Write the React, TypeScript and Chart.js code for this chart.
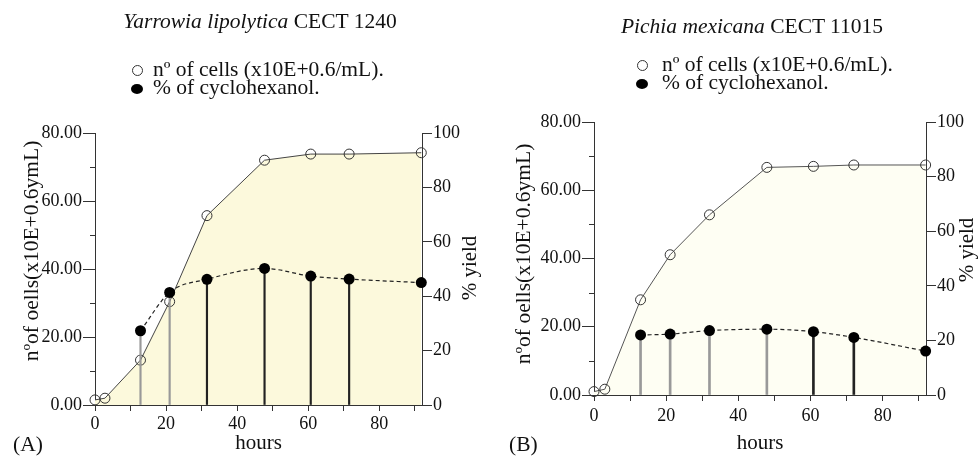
import React, { useEffect, useRef } from 'react';
import { Chart, registerables } from 'chart.js';

Chart.register(...registerables);

// ---------- DATA ----------
// Panel A: Yarrowia lipolytica CECT 1240
const hoursCellsA = [0, 2.8, 12.8, 21, 31.5, 47.7, 60.7, 71.5, 91.8];
const cellsA = [1.5, 2.0, 13.2, 30.4, 55.7, 72.0, 73.8, 73.8, 74.2];
const hoursCycloA = [12.8, 21, 31.5, 47.7, 60.7, 71.5, 91.8];
const cycloA = [27.3, 41.4, 46.2, 50.2, 47.4, 46.3, 45.0];

// Panel B: Pichia mexicana CECT 11015
const hoursCellsB = [0, 3, 12.9, 21.1, 32, 47.9, 60.8, 72, 91.9];
const cellsB = [1.0, 1.7, 27.9, 41.1, 52.8, 66.7, 67.0, 67.4, 67.4];
const hoursCycloB = [12.9, 21.1, 32, 47.9, 60.8, 72, 91.9];
const cycloB = [22.0, 22.3, 23.6, 24.1, 23.2, 21.1, 16.1];

// Axis ranges
const xRange = [0, 92];
const cellsRange = [0, 80];
const yieldRange = [0, 100];

const cellsLabel = 'nº of cells (x10E+0.6/mL).';
const cycloLabel = '% of cyclohexanol.';
const yTitle = 'nºof oells(x10E+0.6ymL)';
const y2Title = '% yield';
const xTitle = 'hours';

const FONT = "'Liberation Serif', 'Times New Roman', serif";

type Spec = {
  cellsHours: number[];
  cells: number[];
  cycloHours: number[];
  cyclo: number[];
  stemColors: string[];
  stemWidth: number;
  lineColor: string;
  fillColor: string;
  top: number;
  yW: number;
  y2W: number;
  xH: number;
  xPad: number;
  yTitleX: number;
  yTitleY: number;
  y2TitleX: number;
  y2TitleY: number;
};

const specA: Spec = {
  cellsHours: hoursCellsA,
  cells: cellsA,
  cycloHours: hoursCycloA,
  cyclo: cycloA,
  stemColors: ['#999', '#999', '#222', '#222', '#222', '#222', 'rgba(0,0,0,0)'],
  stemWidth: 1.5,
  lineColor: '#444',
  fillColor: '#fcf9dc',
  top: 133,
  yW: 95,
  y2W: 67,
  xH: 51,
  xPad: 2,
  yTitleX: 32,
  yTitleY: 251,
  y2TitleX: 470,
  y2TitleY: 268,
};

const specB: Spec = {
  cellsHours: hoursCellsB,
  cells: cellsB,
  cycloHours: hoursCycloB,
  cyclo: cycloB,
  stemColors: ['#999', '#999', '#999', '#999', '#222', '#222', 'rgba(0,0,0,0)'],
  stemWidth: 2,
  lineColor: '#555',
  fillColor: '#fefef3',
  top: 122,
  yW: 105,
  y2W: 52,
  xH: 61,
  xPad: 4,
  yTitleX: 35,
  yTitleY: 254,
  y2TitleX: 478,
  y2TitleY: 250,
};

function makePlugin(p: Spec) {
  return {
    id: 'extras',
    afterDraw(chart: any) {
      const ctx = chart.ctx as CanvasRenderingContext2D;
      const ys = chart.scales.y;
      const area = chart.chartArea;
      ctx.save();
      // minor ticks on left axis
      ctx.strokeStyle = '#333';
      ctx.lineWidth = 1;
      ys.ticks.forEach((t: any) => {
        if (t.value % 20 !== 0) {
          const py = Math.round(ys.getPixelForValue(t.value)) + 0.5;
          ctx.beginPath();
          ctx.moveTo(area.left - 5, py);
          ctx.lineTo(area.left, py);
          ctx.stroke();
        }
      });
      // vertical axis titles (both read bottom-to-top)
      ctx.fillStyle = '#111';
      ctx.textAlign = 'center';
      ctx.textBaseline = 'middle';
      ctx.font = `21.5px ${FONT}`;
      ctx.translate(p.yTitleX, p.yTitleY);
      ctx.rotate(-Math.PI / 2);
      ctx.fillText(yTitle, 0, 0);
      ctx.setTransform(1, 0, 0, 1, 0, 0);
      ctx.font = `21px ${FONT}`;
      ctx.translate(p.y2TitleX, p.y2TitleY);
      ctx.rotate(-Math.PI / 2);
      ctx.fillText(y2Title, 0, 0);
      ctx.restore();
    },
  };
}

function Panel({ spec, left }: { spec: Spec; left: number }) {
  const ref = useRef<HTMLCanvasElement>(null);
  useEffect(() => {
    if (!ref.current) return;
    const p = spec;
    const tickFont = { family: FONT, size: 18 };
    const chart = new Chart(ref.current, {
      type: 'line',
      data: {
        datasets: [
          {
            type: 'line',
            label: cellsLabel,
            data: p.cellsHours.map((h, i) => ({ x: h, y: p.cells[i] })),
            yAxisID: 'y',
            borderColor: p.lineColor,
            borderWidth: 1,
            tension: 0,
            fill: 'origin',
            backgroundColor: p.fillColor,
            pointRadius: 5,
            pointBorderColor: '#333',
            pointBorderWidth: 1,
            pointBackgroundColor: 'rgba(255,255,255,0)',
            clip: false,
            order: 3,
          } as any,
          {
            type: 'bar',
            label: 'stems',
            data: p.cycloHours.map((h, i) => ({ x: h, y: p.cyclo[i] })),
            yAxisID: 'y2',
            backgroundColor: p.stemColors,
            barThickness: p.stemWidth,
            order: 2,
          } as any,
          {
            type: 'line',
            label: cycloLabel,
            data: p.cycloHours.map((h, i) => ({ x: h, y: p.cyclo[i] })),
            yAxisID: 'y2',
            borderColor: '#222',
            borderWidth: 1.2,
            borderDash: [4, 3],
            cubicInterpolationMode: 'monotone',
            fill: false,
            pointRadius: 5.5,
            pointBackgroundColor: '#000',
            pointBorderColor: '#000',
            pointBorderWidth: 0,
            clip: false,
            order: 1,
          } as any,
        ],
      },
      options: {
        animation: false,
        responsive: false,
        maintainAspectRatio: false,
        events: [],
        layout: { padding: { top: p.top, left: 0, right: 0, bottom: 0 } },
        plugins: {
          legend: { display: false },
          tooltip: { enabled: false },
          title: { display: false },
        },
        scales: {
          x: {
            type: 'linear',
            position: 'bottom',
            min: xRange[0],
            max: xRange[1],
            offset: false,
            ticks: {
              stepSize: 10,
              includeBounds: false,
              autoSkip: false,
              maxRotation: 0,
              padding: p.xPad,
              color: '#111',
              font: tickFont,
              callback: (v: any) => (Number(v) % 20 === 0 ? String(v) : ''),
            },
            grid: {
              drawOnChartArea: false,
              drawTicks: true,
              tickLength: 6,
              tickColor: '#333',
              offset: false,
            },
            border: { display: true, color: '#333', width: 1 },
            title: {
              display: true,
              text: xTitle,
              color: '#111',
              font: { family: FONT, size: 21 },
              padding: { top: 0, bottom: 0 },
            },
            afterFit: (s: any) => {
              s.height = p.xH;
            },
          },
          y: {
            type: 'linear',
            position: 'left',
            min: cellsRange[0],
            max: cellsRange[1],
            ticks: {
              stepSize: 10,
              autoSkip: false,
              padding: 1,
              color: '#111',
              font: tickFont,
              callback: (v: any) => (Number(v) % 20 === 0 ? Number(v).toFixed(2) : ''),
            },
            grid: {
              drawOnChartArea: false,
              drawTicks: true,
              tickLength: 12,
              tickColor: (c: any) =>
                c.tick && c.tick.value % 20 === 0 ? '#333' : 'rgba(0,0,0,0)',
            },
            border: { display: true, color: '#333', width: 1 },
            afterFit: (s: any) => {
              s.width = p.yW;
            },
          },
          y2: {
            type: 'linear',
            position: 'right',
            min: yieldRange[0],
            max: yieldRange[1],
            ticks: {
              stepSize: 20,
              autoSkip: false,
              padding: 1,
              color: '#111',
              font: tickFont,
            },
            grid: {
              drawOnChartArea: false,
              drawTicks: true,
              tickLength: 10,
              tickColor: '#333',
            },
            border: { display: true, color: '#333', width: 1 },
            afterFit: (s: any) => {
              s.width = p.y2W;
            },
          },
        },
      } as any,
      plugins: [makePlugin(p)],
    });
    return () => chart.destroy();
  }, [spec]);
  return (
    <canvas
      ref={ref}
      width={489}
      height={456}
      style={{ position: 'absolute', left, top: 0, width: 489, height: 456, display: 'block' }}
    />
  );
}

const textBase: React.CSSProperties = {
  position: 'absolute',
  fontFamily: FONT,
  fontSize: 21.5,
  lineHeight: 1,
  color: '#111',
  whiteSpace: 'nowrap',
  transform: 'translateY(-50%)',
};

function Legend({ cx, tx, y1, y2 }: { cx: number; tx: number; y1: number; y2: number }) {
  return (
    <>
      <span
        style={{
          position: 'absolute',
          left: cx - 5.5,
          top: y1 - 5,
          width: 9,
          height: 9,
          border: '1px solid #333',
          borderRadius: '50%',
          background: '#fff',
        }}
      />
      <div style={{ ...textBase, left: tx, top: y1 }}>{cellsLabel}</div>
      <span
        style={{
          position: 'absolute',
          left: cx - 6,
          top: y2 - 4.5,
          width: 12,
          height: 10,
          borderRadius: '50%',
          background: '#000',
        }}
      />
      <div style={{ ...textBase, left: tx, top: y2 }}>{cycloLabel}</div>
    </>
  );
}

export default function App() {
  return (
    <div
      style={{
        position: 'fixed',
        left: 0,
        top: 0,
        width: 978,
        height: 456,
        background: '#fff',
        overflow: 'hidden',
      }}
    >
      <Panel spec={specA} left={0} />
      <Panel spec={specB} left={489} />

      <div style={{ ...textBase, left: 260, top: 22, transform: 'translate(-50%,-50%)' }}>
        <i>Yarrowia lipolytica</i> CECT 1240
      </div>
      <div style={{ ...textBase, left: 752, top: 27, transform: 'translate(-50%,-50%)' }}>
        <i>Pichia mexicana</i> CECT 11015
      </div>

      <Legend cx={137} tx={153} y1={70} y2={88} />
      <Legend cx={642} tx={662} y1={65} y2={83} />

      <div style={{ ...textBase, left: 13, top: 445 }}>(A)</div>
      <div style={{ ...textBase, left: 509, top: 445 }}>(B)</div>
    </div>
  );
}
